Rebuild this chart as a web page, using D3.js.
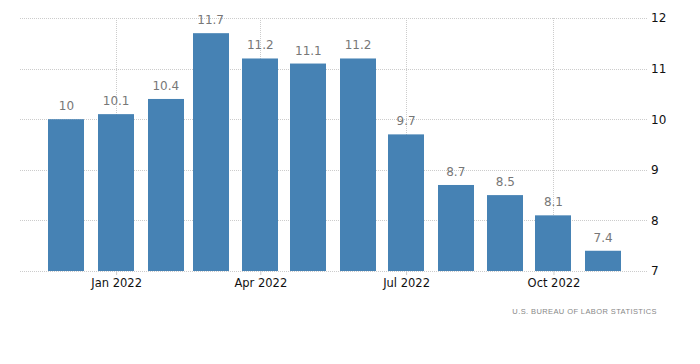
<!DOCTYPE html>
<html>
<head>
<meta charset="utf-8">
<script src="https://cdn.jsdelivr.net/npm/d3@7"></script>
<style>
  body { margin: 0; background: #fff; }
  svg { display: block; font-family: "DejaVu Sans", Tahoma, sans-serif; }
</style>
</head>
<body>
<svg id="chart" width="700" height="364"></svg>
<script>
// Data
const months = ["2021-12", "2022-01", "2022-02", "2022-03", "2022-04", "2022-05",
    "2022-06", "2022-07", "2022-08", "2022-09", "2022-10", "2022-11"];
const values = [10, 10.1, 10.4, 11.7, 11.2, 11.1, 11.2, 9.7, 8.7, 8.5, 8.1, 7.4];
const xTicks = ["2022-01", "2022-04", "2022-07", "2022-10"];
const yTicks = [7, 8, 9, 10, 11, 12];
const source = "U.S. BUREAU OF LABOR STATISTICS";

const parse = d3.timeParse("%Y-%m");
const data = months.map((m, i) => ({ date: parse(m), value: values[i] }));

const svg = d3.select("#chart"),
    plotLeft = 20, plotRight = 648, plotTop = 18, plotBottom = 271;

const x = d3.scaleTime()
    .domain([new Date(2021, 10, 2), new Date(2022, 10, 29)])
    .range([plotLeft, plotRight]);
const y = d3.scaleLinear().domain([7, 12]).range([plotBottom, plotTop]);

const barWidth = 36;

// horizontal grid
svg.append("g")
    .selectAll("line")
    .data(yTicks)
    .join("line")
    .attr("x1", plotLeft)
    .attr("x2", plotRight)
    .attr("y1", d => Math.round(y(d)) + 0.5)
    .attr("y2", d => Math.round(y(d)) + 0.5)
    .attr("stroke", "#ccc")
    .attr("stroke-dasharray", "1,1");

// vertical grid
svg.append("g")
    .selectAll("line")
    .data(xTicks.map(parse))
    .join("line")
    .attr("x1", d => Math.round(x(d)) + 0.5)
    .attr("x2", d => Math.round(x(d)) + 0.5)
    .attr("y1", plotTop)
    .attr("y2", plotBottom)
    .attr("stroke", "#ccc")
    .attr("stroke-dasharray", "1,1");

// bars
svg.append("g")
    .selectAll("rect")
    .data(data)
    .join("rect")
    .attr("x", d => Math.round(x(d.date) - barWidth / 2))
    .attr("y", d => y(d.value))
    .attr("width", barWidth)
    .attr("height", d => plotBottom - y(d.value))
    .attr("fill", "#4682b4");

// value labels
svg.append("g")
    .selectAll("text")
    .data(data)
    .join("text")
    .attr("x", d => x(d.date))
    .attr("y", d => y(d.value) - 9)
    .attr("text-anchor", "middle")
    .attr("font-size", 12)
    .attr("fill", "#777")
    .text(d => d.value);

// x axis
const xAxis = svg.append("g")
    .attr("transform", `translate(0,${plotBottom})`)
    .call(d3.axisBottom(x)
        .tickValues(xTicks.map(parse))
        .tickFormat(d3.timeFormat("%b %Y"))
        .tickSize(4)
        .tickPadding(4));
xAxis.select(".domain").remove();
xAxis.selectAll(".tick line").attr("stroke", "#ccc");
xAxis.selectAll("text")
    .attr("font-size", 11.5)
    .attr("fill", "#111")
    .style("font-family", "DejaVu Sans, Tahoma, sans-serif");

// y axis on the right
const yAxis = svg.append("g")
    .attr("transform", `translate(${plotRight},0)`)
    .call(d3.axisRight(y)
        .tickValues(yTicks)
        .tickFormat(d3.format("d"))
        .tickSize(0)
        .tickPadding(3));
yAxis.select(".domain").remove();
yAxis.selectAll("text")
    .attr("font-size", 12)
    .attr("fill", "#111")
    .style("font-family", "DejaVu Sans, Tahoma, sans-serif");

// source
svg.append("text")
    .attr("x", 657)
    .attr("y", 314)
    .attr("text-anchor", "end")
    .attr("font-size", 7.5)
    .attr("letter-spacing", 0.4)
    .attr("fill", "#888")
    .style("font-family", "Liberation Sans, Arial, sans-serif")
    .text(source);
</script>
</body>
</html>
